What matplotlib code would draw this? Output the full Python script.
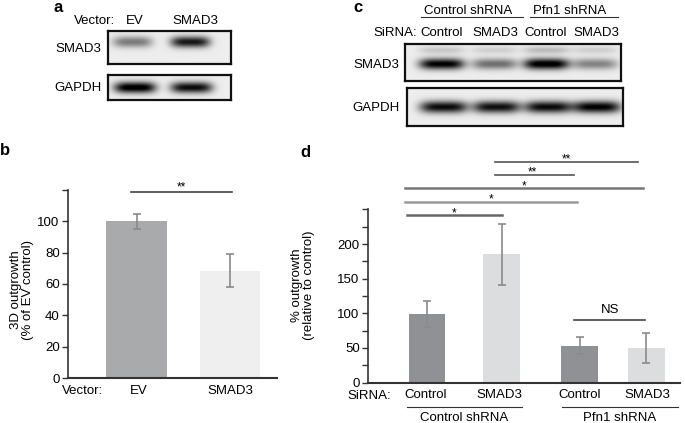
import numpy as np
import matplotlib.pyplot as plt

plt.rcParams['font.family'] = ['Liberation Sans', 'DejaVu Sans']

# panel b data
b_labels = ['EV', 'SMAD3']
b_values = [100, 68.5]
b_errors = [5, 10.5]

# panel d data
d_labels = ['Control', 'SMAD3', 'Control', 'SMAD3']
d_groups = ['Control shRNA', 'Pfn1 shRNA']
d_values = [99, 185, 53, 50]
d_errors = [19, 44, 12.5, 22]

# blot band intensities (0 = none, 1 = black)
a_smad3 = [0.45, 0.85]
a_gapdh = [1.0, 0.9]
c_smad3 = [0.95, 0.5, 1.0, 0.42]
c_smad3_upper = [0.15, 0.12, 0.2, 0.12]
c_gapdh = [0.9, 0.88, 0.9, 0.95]

FS = 9.5
W, H = 685, 423
fig = plt.figure(figsize=(W / 100, H / 100), dpi=100)


def rect(x0, y0, x1, y1):
    # pixel box -> figure fraction
    return [x0 / W, 1 - y1 / H, (x1 - x0) / W, (y1 - y0) / H]


def ftext(x, y, s, **kw):
    kw.setdefault('ha', 'center')
    kw.setdefault('va', 'center')
    kw.setdefault('fontsize', FS)
    fig.text(x / W, 1 - y / H, s, **kw)


def fline(x0, x1, y, color='#333333', lw=1.0):
    fig.add_artist(plt.Line2D([x0 / W, x1 / W], [1 - y / H, 1 - y / H], color=color, lw=lw))


def blot(box, centers, amps, yc, bw, bh, extra=None):
    ax = fig.add_axes(rect(*box))
    xs = np.linspace(0, 1, 400)
    ys = np.linspace(0, 1, 100)
    X, Y = np.meshgrid(xs, ys)
    img = np.full_like(X, 0.07)
    for c, a in zip(centers, amps):
        img += a * np.exp(-((X - c) / (bw / 2)) ** 4 - ((Y - yc) / (bh / 2)) ** 2)
    if extra is not None:
        for c, a in zip(centers, extra[0]):
            img += a * np.exp(-((X - c) / (bw / 2)) ** 4 - ((Y - extra[1]) / (bh / 3)) ** 2)
    ax.imshow(np.clip(img, 0, 1), cmap='gray_r', vmin=0, vmax=1, extent=[0, 1, 0, 1],
              aspect='auto', origin='lower', interpolation='bilinear')
    ax.set_xticks([])
    ax.set_yticks([])
    for s in ax.spines.values():
        s.set_linewidth(1.6)
        s.set_color('#111111')
    return ax


# ---- panel a ----
ftext(58, 7, 'a', fontsize=12, fontweight='bold')
ftext(94, 21, 'Vector:')
ftext(135, 21, b_labels[0])
ftext(195, 21, b_labels[1])
ftext(78, 49, 'SMAD3')
ftext(78, 88, 'GAPDH')
blot((108, 31, 231, 64), [0.2, 0.67], a_smad3, 0.67, 0.32, 0.34)
blot((108, 75, 231, 100), [0.22, 0.68], a_gapdh, 0.5, 0.34, 0.45)

# ---- panel c ----
ftext(358, 7, 'c', fontsize=12, fontweight='bold')
ftext(468, 11, d_groups[0])
ftext(570, 11, d_groups[1])
fline(421, 523, 17, lw=0.8)
fline(530, 618, 17, lw=0.8)
ftext(395, 33, 'SiRNA:')
for xc, lab in zip([442, 495, 546, 596], d_labels):
    ftext(xc, 33, lab)
ftext(376, 65, 'SMAD3')
ftext(376, 108, 'GAPDH')
lanes_c = [0.17, 0.415, 0.655, 0.88]
blot((405, 44, 621, 81), lanes_c, c_smad3, 0.46, 0.21, 0.3, extra=(c_smad3_upper, 0.84))
blot((407, 88, 623, 126), lanes_c, c_gapdh, 0.5, 0.22, 0.32)

# ---- panel b ----
ftext(5, 150, 'b', fontsize=12, fontweight='bold')
axb = fig.add_axes(rect(68, 190, 277, 378))
xb = np.arange(len(b_values))
axb.bar(xb, b_values, width=0.65, color=['#a9aaac', '#efeff0'])
axb.errorbar(xb, b_values, yerr=b_errors, fmt='none', ecolor='#8a8a8a', elinewidth=1.2,
             capsize=3, capthick=1.2)
axb.set_xlim(-0.733, 1.503)
axb.set_ylim(0, 120)
axb.set_yticks(np.arange(0, 121, 20))
axb.set_yticklabels([str(v) for v in range(0, 101, 20)] + [''])
axb.set_xticks([])
axb.plot([-0.06, 1.02], [119, 119], color='#444444', lw=1.2, clip_on=False)
axb.text(0.48, 121.5, '**', ha='center', va='center', fontsize=8.5)
ftext(22, 290, '3D outgrowth\n(% of EV control)', rotation=90, linespacing=1.1)
ftext(82, 391, 'Vector:')
for xc, lab in zip([139, 230], b_labels):
    ftext(xc, 391, lab)

# ---- panel d ----
ftext(305, 152, 'd', fontsize=12, fontweight='bold')
axd = fig.add_axes(rect(368, 209.5, 680, 382.5))
xd = [0, 1, 2.047, 2.946]
axd.bar(xd, d_values, width=0.49, color=['#8f9194', '#dcddde', '#8f9194', '#dcddde'])
axd.errorbar(xd, d_values, yerr=d_errors, fmt='none', ecolor='#8a8a8a', elinewidth=1.2,
             capsize=3, capthick=1.2)
axd.set_xlim(-0.792, 3.396)
axd.set_ylim(0, 250)
axd.set_yticks(np.arange(0, 251, 25))
axd.set_yticklabels([str(v) if v % 50 == 0 and v <= 200 else '' for v in range(0, 251, 25)])
axd.set_xticks([])
# significance brackets: x start, x end, height, label, label x, colour, width
sig = [
    (-0.27, 1.0, 242, '*', 0.36, '#666666', 1.8),
    (-0.30, 2.01, 261, '*', 0.86, '#9a9a9a', 1.8),
    (-0.30, 2.90, 281, '*', 1.30, '#777777', 1.8),
    (0.91, 1.97, 300, '**', 1.42, '#555555', 1.2),
    (0.91, 2.83, 319, '**', 1.87, '#555555', 1.2),
]
for x0, x1, yv, lab, xt, col, lw in sig:
    axd.plot([x0, x1], [yv, yv], color=col, lw=lw, clip_on=False)
    axd.text(xt, yv + 3, lab, ha='center', va='center', fontsize=8.5)
axd.plot([1.97, 2.93], [90, 90], color='#444444', lw=1.2)
axd.text(2.46, 96, 'NS', ha='center', va='bottom', fontsize=FS)
ftext(303, 285, '% outgrowth\n(relative to control)', rotation=90, linespacing=1.1)
ftext(369, 395.5, 'SiRNA:')
for xc, lab in zip([426, 499, 580, 647], d_labels):
    ftext(xc, 395, lab)
fline(407, 522, 406.5, lw=0.8)
fline(562, 678, 406.5, lw=0.8)
ftext(464, 418, d_groups[0])
ftext(620, 418, d_groups[1])

for ax in (axb, axd):
    for s in ['top', 'right']:
        ax.spines[s].set_visible(False)
    ax.spines['left'].set_color('#333333')
    ax.spines['bottom'].set_color('#333333')
    ax.spines['left'].set_linewidth(1.2)
    ax.spines['bottom'].set_linewidth(1.5)
    ax.tick_params(axis='y', direction='out', length=4, width=1.0, color='#333333',
                   labelsize=FS, pad=2)

fig.savefig('out.png', dpi=100)
